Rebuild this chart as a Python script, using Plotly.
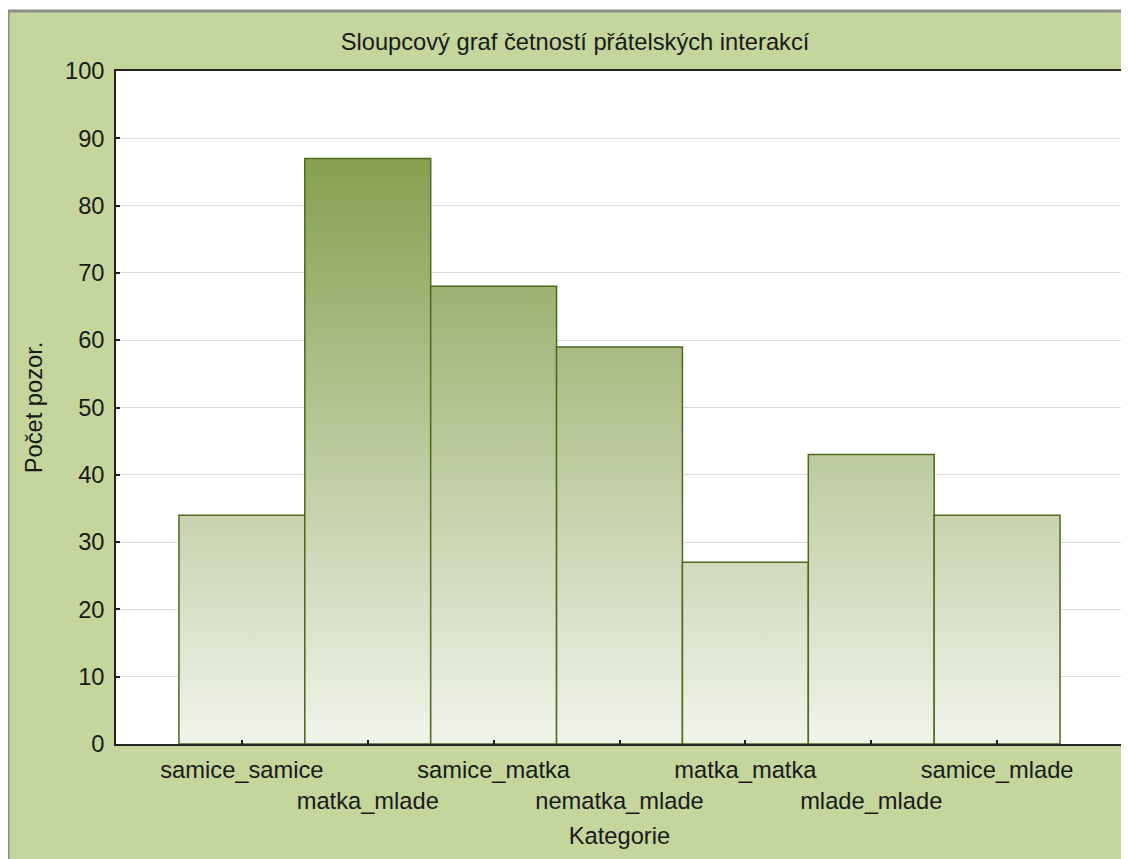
import plotly.graph_objects as go

# ---- data ----
categories = ["samice_samice", "matka_mlade", "samice_matka", "nematka_mlade",
              "matka_matka", "mlade_mlade", "samice_mlade"]
counts = [34, 87, 68, 59, 27, 43, 34]
y_tick_values = list(range(0, 101, 10))
title_text = "Sloupcový graf četností přátelských interakcí"
x_title = "Kategorie"
y_title = "Počet pozor."

# ---- layout constants ----
OFF = 8                      # page body margin offset of the figure
W, H = 1129 - OFF, 859 - OFF
ML, MR, MT, MB = 116 - OFF, 6, 71 - OFF, 115
PW = W - ML - MR
PH = H - MT - MB

BG = "#c4d69c"
BORDER = "#8c8c8c"
LIGHT = "#f1f4ec"
DARK = "#86a04f"
EDGE = "#4e6a1c"
AXIS = "#222222"
GRID = "#dcdcdc"
FONT = "Liberation Sans, Arial, sans-serif"
FS = 23.7
TXT = "#1a1a1a"


def px_x(p):  # page pixel -> paper coordinate
    return (p - OFF - ML) / PW


def px_y(p):
    return (H - MB - (p - OFF)) / PH


fig = go.Figure()

# bars: gradient fill + outline, drawn on the data axes
top = max(counts)
for i, v in enumerate(counts):
    fig.add_trace(go.Scatter(
        x=[i - 0.5, i + 0.5, i + 0.5, i - 0.5, i - 0.5],
        y=[0, 0, v, v, 0],
        mode="lines", line=dict(width=1.5, color=EDGE),
        fill="toself",
        fillgradient=dict(type="vertical", colorscale=[[0, LIGHT], [1, DARK]],
                          start=0, stop=top),
        name=categories[i], hoverinfo="name+y", showlegend=False,
    ))

ticktext = [c if i % 2 == 0 else "<br>" + c for i, c in enumerate(categories)]

fig.update_layout(
    width=W, height=H,
    margin=dict(l=ML, r=MR, t=MT, b=MB, pad=0),
    paper_bgcolor=BG, plot_bgcolor="white",
    font=dict(family=FONT, size=FS, color=AXIS),
    title=dict(text=title_text, x=(575 - OFF) / W, xref="container", xanchor="center",
               y=1 - (42 - OFF) / H, yref="container", yanchor="middle",
               font=dict(family=FONT, size=FS, color=TXT)),
    showlegend=False,
    xaxis=dict(
        range=[-1, len(categories)], automargin=False,
        tickmode="array", tickvals=list(range(len(categories))), ticktext=ticktext,
        tickangle=0,
        ticks="inside", ticklen=4, tickwidth=1.5, tickcolor=AXIS,
        ticklabelstandoff=4,
        showline=True, mirror=True, linecolor=AXIS, linewidth=1.5,
        showgrid=False, zeroline=False,
        tickfont=dict(family=FONT, size=FS, color=TXT),
        title=dict(text=x_title, standoff=14,
                   font=dict(family=FONT, size=FS, color=TXT)),
    ),
    yaxis=dict(
        range=[0, 100], automargin=False,
        tickmode="array", tickvals=y_tick_values,
        ticks="inside", ticklen=4, tickwidth=1.5, tickcolor=AXIS,
        ticklabelstandoff=5,
        showline=True, mirror=True, linecolor=AXIS, linewidth=1.5,
        showgrid=True, gridcolor=GRID, gridwidth=1, zeroline=False,
        tickfont=dict(family=FONT, size=FS, color=TXT),
        title=dict(text=y_title, standoff=16,
                   font=dict(family=FONT, size=FS, color=TXT)),
    ),
    shapes=[
        # white strips outside the framed panel
        dict(type="rect", xref="paper", yref="paper", layer="above",
             x0=px_x(-20), x1=px_x(1150), y0=px_y(10), y1=px_y(-20),
             fillcolor="white", line=dict(width=0)),
        dict(type="rect", xref="paper", yref="paper", layer="above",
             x0=px_x(-20), x1=px_x(7), y0=px_y(880), y1=px_y(-20),
             fillcolor="white", line=dict(width=0)),
        # gray frame
        dict(type="line", xref="paper", yref="paper", layer="above",
             x0=px_x(7), x1=px_x(1150), y0=px_y(11), y1=px_y(11),
             line=dict(color=BORDER, width=3)),
        dict(type="line", xref="paper", yref="paper", layer="above",
             x0=px_x(8), x1=px_x(8), y0=px_y(10), y1=px_y(880),
             line=dict(color=BORDER, width=3)),
    ],
)

fig.write_html("out.html")
